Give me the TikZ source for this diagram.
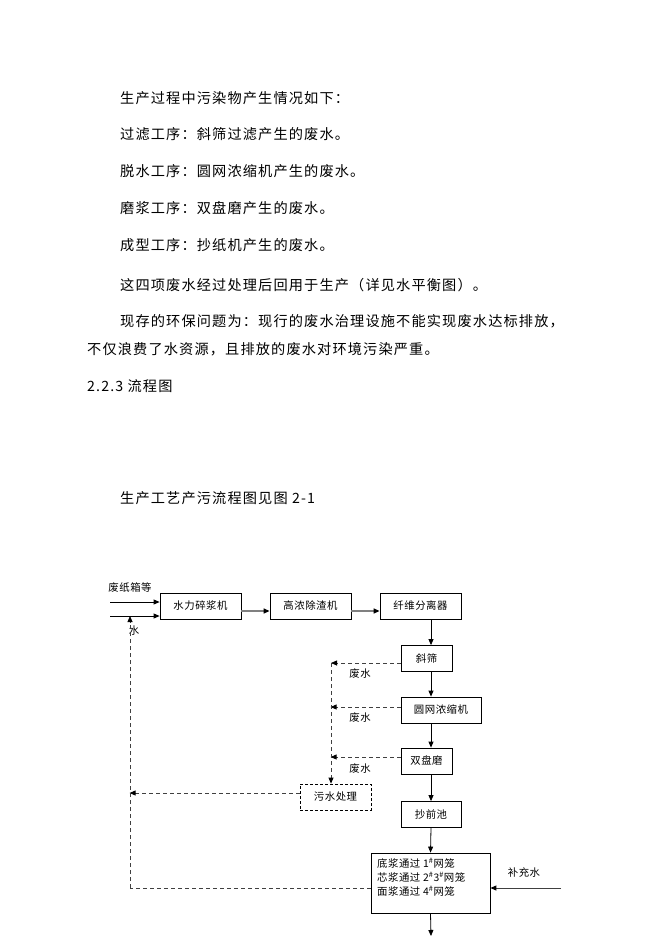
\documentclass[tikz,border=0pt]{standalone}
\usepackage{fontspec}
\setmainfont{Noto Sans CJK SC}
\newfontfamily\bodyf{Noto Sans CJK SC}[LetterSpace=8]
\newfontfamily\diaf{Noto Sans CJK SC}[LetterSpace=5]
\usetikzlibrary{arrows.meta,calc}
\tikzset{
  body/.style={anchor=west,inner sep=0pt,font=\bodyf\fontsize{14.2}{17}\selectfont},
  lab/.style={inner sep=0pt,font=\diaf\fontsize{10.4}{12}\selectfont},
  pbox/.style={draw,line width=0.8pt,minimum height=26pt,inner sep=0pt,font=\diaf\fontsize{10.4}{12}\selectfont,anchor=center},
  dbox/.style={pbox,dash pattern=on 3pt off 2pt},
  arr/.style={line width=0.8pt,-{Triangle[length=6pt,width=5pt]}},
  garr/.style={draw=gray,line width=1.4pt,-{Triangle[length=6pt,width=5pt,color=black]}},
  darr/.style={draw=black!75,line width=0.8pt,dash pattern=on 4pt off 3pt,-{Triangle[length=6pt,width=5pt,color=black]}},
  dline/.style={draw=black!75,line width=0.8pt,dash pattern=on 4pt off 3pt},
}
\begin{document}
\begin{tikzpicture}[x=1pt,y=-1pt]
\useasboundingbox (0,0) rectangle (662,936);
% body text
\node[body] (t1) at (120,98) {生产过程中污染物产生情况如下：};
\node[body] (t2) at (120,134) {过滤工序：斜筛过滤产生的废水。};
\node[body] (t3) at (120,171) {脱水工序：圆网浓缩机产生的废水。};
\node[body] (t4) at (120,208) {磨浆工序：双盘磨产生的废水。};
\node[body] (t5) at (120,245) {成型工序：抄纸机产生的废水。};
\node[body] (t6) at (120,285) {这四项废水经过处理后回用于生产（详见水平衡图）。};
\node[body] (t7) at (120,321) {现存的环保问题为：现行的废水治理设施不能实现废水达标排放，};
\node[body] (t8) at (87,349) {不仅浪费了水资源，且排放的废水对环境污染严重。};
\node[body] (t9) at (87,386) {2.2.3 流程图};
\node[body] (t10) at (120,498) {生产工艺产污流程图见图 2-1};
% boxes
\node[pbox,minimum width=81pt] (hs) at (200.5,606) {水力碎浆机};
\node[pbox,minimum width=81pt] (gn) at (310.5,606) {高浓除渣机};
\node[pbox,minimum width=81pt] (xw) at (420.5,606) {纤维分离器};
\node[pbox,minimum width=51pt] (xs) at (426.5,658.5) {斜筛};
\node[pbox,minimum width=80pt] (yw) at (441,710) {圆网浓缩机};
\node[pbox,minimum width=51pt] (sp) at (426.5,761) {双盘磨};
\node[dbox,minimum width=71pt] (ws) at (335.5,797) {污水处理};
\node[pbox,minimum width=60pt] (cq) at (431,814.5) {抄前池};
\node[pbox,minimum width=119pt,minimum height=60pt] (pm) at (430.5,883) {};
\node[lab,anchor=north west,align=left,font=\diaf\fontsize{10.4}{14}\selectfont] (pmt) at (377,858)
  {底浆通过 1\textsuperscript{\#}网笼\\芯浆通过 2\textsuperscript{\#}3\textsuperscript{\#}网笼\\面浆通过 4\textsuperscript{\#}网笼};
% labels
\node[lab] (l1) at (130,588) {废纸箱等};
\node[lab] (l2) at (134,631) {水};
\node[lab] (l3) at (360,674) {废水};
\node[lab] (l4) at (360,718) {废水};
\node[lab] (l5) at (360,769) {废水};
\node[lab] (l6) at (524,873) {补充水};
% coordinates
\coordinate (cx) at (431,0);
\coordinate (in1) at (110,602);
\coordinate (in2) at (110,616);
\coordinate (ret) at (130,616);
\coordinate (col) at (331,663);
\coordinate (lft) at (130,888);
\coordinate (bc) at (561,888);
\coordinate (out) at (431,936);
% connectors
\draw[arr] (in1) -- (in1 -| hs.west);
\draw[arr] (in2) -- (in2 -| hs.west);
\draw[garr] ($(hs.east)+(0,5)$) -- ($(gn.west)+(0,5)$);
\draw[garr] ($(gn.east)+(0,5)$) -- ($(xw.west)+(0,5)$);
\draw[arr] (xw.south -| cx) -- (xs.north -| cx);
\draw[arr] (xs.south -| cx) -- (yw.north -| cx);
\draw[arr] (yw.south -| cx) -- (sp.north -| cx);
\draw[arr] (sp.south -| cx) -- (cq.north);
\draw[arr] (cq.south) -- (pm.north);
\draw[arr] (pm.south) -- (out);
\draw[darr] ($(xs.west)+(0,4.5)$) -- (col);
\draw[darr] ($(yw.west)+(0,-3)$) -- ($(yw.west)+(-70,-3)$);
\draw[darr] ($(sp.west)+(0,-4)$) -- ($(sp.west)+(-70,-4)$);
\draw[darr] (col) -- (col |- ws.north);
\draw[darr] ($(ws.west)+(0,-4)$) -- ($(ws.west)+(-170,-4)$);
\draw[dline] ($(pm.west)+(0,5)$) -- (lft);
\draw[darr] (lft) -- (ret);
\draw[draw=black!75,line width=1pt,-{Triangle[length=6pt,width=5pt,color=black]}] (bc) -- (bc -| pm.east);
\end{tikzpicture}
\end{document}
